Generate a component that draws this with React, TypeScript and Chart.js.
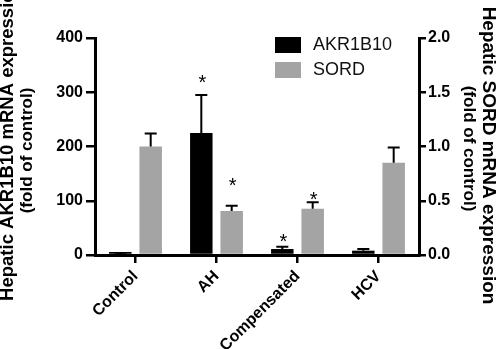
import React, { useEffect, useRef } from 'react';
import { Chart, registerables } from 'chart.js';

Chart.register(...registerables);

// ---- data ----
const categories = ['Control', 'AH', 'Compensated', 'HCV'];
const akr1b10Mean = [1, 225, 11, 8];
const akr1b10Err = [0.5, 70, 4, 3];
const sordMean = [1.0, 0.405, 0.427, 0.85];
const sordErr = [0.12, 0.05, 0.06, 0.14];
// significance marks (*), given as the axis value where each mark sits
const akr1b10Sig = [null, 327, 33, null];
const sordSig = [null, 0.69, 0.553, null];
const leftTickStep = 100;
const leftMax = 400;
const rightTickStep = 0.5;
const rightMax = 2.0;
const leftTitle = ['Hepatic AKR1B10 mRNA expression', '(fold of control)'];
const rightTitle = ['Hepatic SORD mRNA expression', '(fold of control)'];

const FONT = "'Liberation Sans', Arial, Helvetica, sans-serif";
const GRAY = '#a4a4a4';

const errorBarPlugin = {
  id: 'errorBars',
  afterDatasetsDraw(chart: any) {
    const ctx = chart.ctx;
    ctx.save();
    chart.data.datasets.forEach((ds: any, di: number) => {
      const meta = chart.getDatasetMeta(di);
      const scale = chart.scales[ds.yAxisID];
      meta.data.forEach((el: any, i: number) => {
        const v = ds.data[i];
        const e = ds.errors[i];
        const yTop = scale.getPixelForValue(v + e);
        ctx.strokeStyle = '#000';
        ctx.lineWidth = 2;
        ctx.beginPath();
        ctx.moveTo(el.x, el.y);
        ctx.lineTo(el.x, yTop);
        ctx.moveTo(el.x - 6, yTop);
        ctx.lineTo(el.x + 6, yTop);
        ctx.stroke();
        const s = ds.sig[i];
        if (s !== null && s !== undefined) {
          const ys = scale.getPixelForValue(s);
          ctx.fillStyle = '#000';
          ctx.font = `20px ${FONT}`;
          ctx.textAlign = 'center';
          ctx.textBaseline = 'alphabetic';
          ctx.fillText('*', el.x + 1, ys + 20 * 0.57);
        }
      });
    });
    ctx.restore();
  },
};

const legendPlugin = {
  id: 'boxLegend',
  afterDraw(chart: any) {
    const ctx = chart.ctx;
    const { left, top } = chart.chartArea;
    const x0 = left + 180;
    const y0 = top - 1;
    ctx.save();
    chart.data.datasets.forEach((ds: any, i: number) => {
      const y = y0 + i * 25;
      ctx.fillStyle = ds.backgroundColor;
      ctx.fillRect(x0, y, 26, 16);
      ctx.fillStyle = '#111';
      ctx.font = `18px ${FONT}`;
      ctx.textAlign = 'left';
      ctx.textBaseline = 'middle';
      ctx.fillText(ds.label, x0 + 38, y + 8);
    });
    ctx.restore();
  },
};

const axisTitlePlugin = {
  id: 'axisTitles',
  afterDraw(chart: any) {
    const ctx = chart.ctx;
    const { top, bottom } = chart.chartArea;
    const w = chart.width;
    const mid = (top + bottom) / 2;
    ctx.save();
    ctx.fillStyle = '#000';
    ctx.textBaseline = 'middle';
    ctx.textAlign = 'center';
    const drawRot = (text: string, x: number, y: number, rot: number, size: number) => {
      ctx.save();
      ctx.translate(x, y);
      ctx.rotate(rot);
      ctx.font = `bold ${size}px ${FONT}`;
      ctx.fillText(text, 0, 0);
      ctx.restore();
    };
    // left title
    drawRot(leftTitle[0], 8, mid - 6, -Math.PI / 2, 18.5);
    drawRot(leftTitle[1], 27.5, mid + 4, -Math.PI / 2, 17);
    // right title
    drawRot(rightTitle[0], w - 13, mid + 9, Math.PI / 2, 19);
    drawRot(rightTitle[1], w - 32, mid + 2, Math.PI / 2, 17);
    ctx.restore();
  },
};

export default function App() {
  const ref = useRef<HTMLCanvasElement>(null);
  useEffect(() => {
    document.body.style.margin = '0';
    const canvas = ref.current!;
    const tickFont = { family: FONT, size: 16, weight: 'bold' as const };
    const chart = new Chart(canvas, {
      type: 'bar',
      data: {
        labels: categories,
        datasets: [
          {
            label: 'AKR1B10',
            data: akr1b10Mean,
            errors: akr1b10Err,
            sig: akr1b10Sig,
            backgroundColor: '#000',
            yAxisID: 'y',
            minBarLength: 3,
            categoryPercentage: 0.75,
            barPercentage: 0.74,
          } as any,
          {
            label: 'SORD',
            data: sordMean,
            errors: sordErr,
            sig: sordSig,
            backgroundColor: GRAY,
            yAxisID: 'y1',
            categoryPercentage: 0.75,
            barPercentage: 0.74,
          } as any,
        ],
      },
      options: {
        responsive: false,
        animation: false,
        devicePixelRatio: 1,
        layout: { padding: { top: 38, left: 0, right: 0, bottom: 0 } },
        plugins: { legend: { display: false }, tooltip: { enabled: false } },
        scales: {
          x: {
            offset: true,
            grid: { offset: false, drawOnChartArea: false, color: '#000', lineWidth: 2.5, tickLength: 8 },
            border: { color: '#000', width: 3, z: 1 },
            ticks: { color: '#000', font: tickFont, minRotation: 45, maxRotation: 45, padding: 4, autoSkip: false },
            afterFit: (s: any) => { s.height = 94; },
          },
          y: {
            position: 'left',
            min: 0,
            max: leftMax,
            grid: { drawOnChartArea: false, color: '#000', lineWidth: 2.5, tickLength: 9 },
            border: { color: '#000', width: 3, z: 1 },
            ticks: { stepSize: leftTickStep, color: '#000', font: tickFont, padding: 3 },
            afterFit: (s: any) => { s.width = 95; },
          },
          y1: {
            position: 'right',
            min: 0,
            max: rightMax,
            grid: { drawOnChartArea: false, color: '#000', lineWidth: 2.5, tickLength: 7 },
            border: { color: '#000', width: 3, z: 1 },
            ticks: {
              stepSize: rightTickStep,
              color: '#000',
              font: tickFont,
              padding: 2,
              callback: (v: any) => Number(v).toFixed(1),
            },
            afterFit: (s: any) => { s.width = 82; },
          },
        },
      } as any,
      plugins: [errorBarPlugin, legendPlugin, axisTitlePlugin],
    });
    return () => chart.destroy();
  }, []);
  return (
    <div style={{ width: 501, height: 349 }}>
      <canvas ref={ref} width={501} height={349} style={{ display: 'block', width: 501, height: 349 }} />
    </div>
  );
}
